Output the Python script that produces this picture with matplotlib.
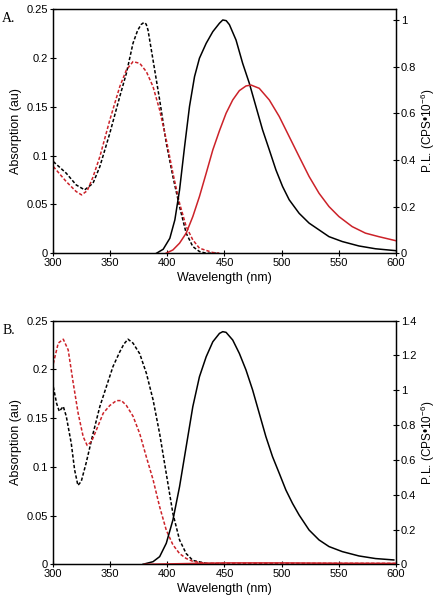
import numpy as np
import matplotlib
matplotlib.use("Agg")
import matplotlib.pyplot as plt
from matplotlib.ticker import FuncFormatter

plt.rcParams['font.family'] = ['Liberation Sans', 'DejaVu Sans']
plt.rcParams['mathtext.fontset'] = 'custom'
plt.rcParams['mathtext.rm'] = 'Liberation Sans'

RED = '#cc2229'

# ---- panel A: absorption (left axis) ----
a_abs_black_x = [300.3, 311.6, 320.3, 327.7, 335, 341, 349.7, 358.4, 364.2, 370, 374, 377,
                 379.6, 381.5, 383.1, 387.5, 393.3, 399.1, 404.9, 410.7, 416.5, 422.3, 428.1,
                 433.9, 445]
a_abs_black_y = [0.0938, 0.0819, 0.0699, 0.0648, 0.0716, 0.0887, 0.1228, 0.1603, 0.1842, 0.2150,
                 0.2280, 0.2340, 0.2363, 0.2345, 0.2285, 0.1978, 0.1569, 0.1125, 0.0784, 0.0477,
                 0.0205, 0.0068, 0.0017, 0.0, 0.0]
a_abs_red_x = [300.3, 311.6, 320.3, 325, 330, 335, 341, 349.7, 358.4, 364.2, 370, 375.9, 381.7,
               387.5, 393.3, 399.1, 404.9, 410.7, 416.5, 422.3, 428.1, 439.7, 445.5]
a_abs_red_y = [0.0887, 0.0733, 0.0631, 0.0597, 0.0640, 0.0780, 0.0989, 0.1364, 0.1705, 0.1876,
               0.1961, 0.1944, 0.1858, 0.1705, 0.1466, 0.1160, 0.0819, 0.0511, 0.0273, 0.0136,
               0.0051, 0.0007, 0.0]

# ---- panel A: photoluminescence (right axis) ----
a_pl_black_x = [390.6, 396.4, 402.2, 406.6, 410.7, 415.1, 419.4, 423.8, 428.1, 434, 439.8, 445.6,
                448.5, 451.5, 454.3, 460.1, 465.9, 471.7, 477.5, 483.3, 489.2, 495, 500.8, 506.6,
                515.3, 524, 532.7, 541.4, 553, 567.6, 582.1, 599.5]
a_pl_black_y = [0.0, 0.017, 0.064, 0.143, 0.271, 0.457, 0.629, 0.757, 0.836, 0.9, 0.95, 0.986,
                1.0, 0.997, 0.980, 0.914, 0.814, 0.729, 0.629, 0.529, 0.443, 0.357, 0.286, 0.229,
                0.171, 0.129, 0.1, 0.071, 0.05, 0.031, 0.019, 0.011]
a_pl_red_x = [399, 404.9, 410.7, 416.5, 422.3, 428.1, 434, 439.8, 445.6, 451.4, 457.2, 463,
              468.8, 473.2, 480.4, 489.2, 497.9, 506.6, 515.3, 524, 532.7, 541.4, 550.1, 561.7,
              573.3, 584.9, 599.5]
a_pl_red_y = [0.0, 0.014, 0.043, 0.086, 0.157, 0.243, 0.343, 0.443, 0.525, 0.6, 0.657, 0.697,
              0.717, 0.721, 0.707, 0.657, 0.586, 0.5, 0.414, 0.329, 0.257, 0.2, 0.157, 0.114,
              0.086, 0.071, 0.054]

# ---- panel B: absorption (left axis) ----
b_abs_black_x = [300.3, 303.2, 305.5, 309, 311.6, 316, 318.9, 321.8, 324.7, 329, 335, 341, 346.6,
                 352.5, 358.4, 362, 365.6, 370, 375.9, 381.7, 387.5, 393.3, 399.1, 404.9, 410.7,
                 416.5, 422.3, 433.9, 450]
b_abs_black_y = [0.182, 0.165, 0.157, 0.162, 0.152, 0.124, 0.097, 0.081, 0.085, 0.104, 0.134,
                 0.162, 0.182, 0.203, 0.218, 0.226, 0.231, 0.227, 0.216, 0.196, 0.169, 0.134,
                 0.093, 0.052, 0.025, 0.011, 0.004, 0.001, 0.0]
b_abs_red_x = [300.3, 304.6, 309, 313.3, 317.7, 322, 326.4, 329.9, 333.7, 338, 343.9, 349.7,
               355.5, 359.9, 364.2, 370, 375.9, 381.7, 387.5, 393.3, 399.1, 404.9, 410.7, 416.5,
               422.3, 433.9, 600]
b_abs_red_y = [0.206, 0.227, 0.231, 0.22, 0.186, 0.155, 0.131, 0.122, 0.126, 0.138, 0.155,
               0.163, 0.168, 0.168, 0.163, 0.152, 0.134, 0.110, 0.087, 0.059, 0.035, 0.020,
               0.011, 0.006, 0.003, 0.001, 0.001]

# ---- panel B: photoluminescence (right axis) ----
b_pl_black_x = [378.7, 387.5, 393.3, 399.1, 404.9, 410.7, 416.5, 422.3, 428.1, 434, 439.8,
                445.6, 448.5, 451.4, 457.2, 463, 468.8, 474.6, 480.4, 486.2, 492, 497.9, 503.7,
                509.5, 515.3, 524, 532.7, 541.4, 553, 567.6, 582.1, 598.1]
b_pl_black_y = [0.0, 0.015, 0.044, 0.121, 0.255, 0.446, 0.676, 0.906, 1.078, 1.193, 1.279,
                1.327, 1.337, 1.333, 1.289, 1.212, 1.117, 1.002, 0.868, 0.734, 0.619, 0.523,
                0.427, 0.350, 0.283, 0.197, 0.140, 0.102, 0.073, 0.048, 0.033, 0.025]
b_pl_red_x = [380, 450, 500, 550, 600]
b_pl_red_y = [0.0, 0.008, 0.008, 0.006, 0.005]

wl_ticks = [300, 350, 400, 450, 500, 550, 600]
abs_ticks = [0, 0.05, 0.1, 0.15, 0.2, 0.25]
pl_ticks_a = [0, 0.2, 0.4, 0.6, 0.8, 1]
pl_ticks_b = [0, 0.2, 0.4, 0.6, 0.8, 1, 1.2, 1.4]

fmt = FuncFormatter(lambda v, p: '%g' % v)
dash = (0, (2.2, 1.3))


def style_axes(ax, ax2, pl_ticks, pl_max):
    ax.set_xlim(300, 600)
    ax.set_ylim(0, 0.25)
    ax2.set_ylim(0, pl_max)
    ax.set_xticks(wl_ticks)
    ax.set_yticks(abs_ticks)
    ax2.set_yticks(pl_ticks)
    ax.yaxis.set_major_formatter(fmt)
    ax2.yaxis.set_major_formatter(fmt)
    for a in (ax, ax2):
        a.tick_params(direction='inout', length=4, width=0.8, labelsize=8, pad=1.5)
        for s in a.spines.values():
            s.set_linewidth(0.9)
    ax.set_xlabel('Wavelength (nm)', fontsize=9, labelpad=3)
    ax.set_ylabel('Absorption (au)', fontsize=9, labelpad=3)
    ax2.set_ylabel('P.L. (CPS\u2022$\\mathregular{10^{-6}}$)', fontsize=8.5, labelpad=2)


fig = plt.figure(figsize=(4.39, 6.0), dpi=100)

# panel A
axA = fig.add_axes([0.1207, 0.578, 0.7813, 0.407])
axA2 = axA.twinx()
axA.plot(a_abs_black_x, a_abs_black_y, color='black', lw=1.1, ls=dash)
axA.plot(a_abs_red_x, a_abs_red_y, color=RED, lw=1.1, ls=dash)
axA2.plot(a_pl_black_x, a_pl_black_y, color='black', lw=1.1)
axA2.plot(a_pl_red_x, a_pl_red_y, color=RED, lw=1.1)
style_axes(axA, axA2, pl_ticks_a, 1.047)
fig.text(0.005, 0.963, 'A.', family=['Liberation Serif'], fontsize=10)

# panel B
axB = fig.add_axes([0.1207, 0.0595, 0.7813, 0.406])
axB2 = axB.twinx()
axB.plot(b_abs_black_x, b_abs_black_y, color='black', lw=1.1, ls=dash)
axB.plot(b_abs_red_x, b_abs_red_y, color=RED, lw=1.1, ls=dash)
axB2.plot(b_pl_black_x, b_pl_black_y, color='black', lw=1.1)
axB2.plot(b_pl_red_x, b_pl_red_y, color=RED, lw=1.1)
style_axes(axB, axB2, pl_ticks_b, 1.4)
fig.text(0.005, 0.443, 'B.', family=['Liberation Serif'], fontsize=10)

fig.savefig('out.png', dpi=100)
